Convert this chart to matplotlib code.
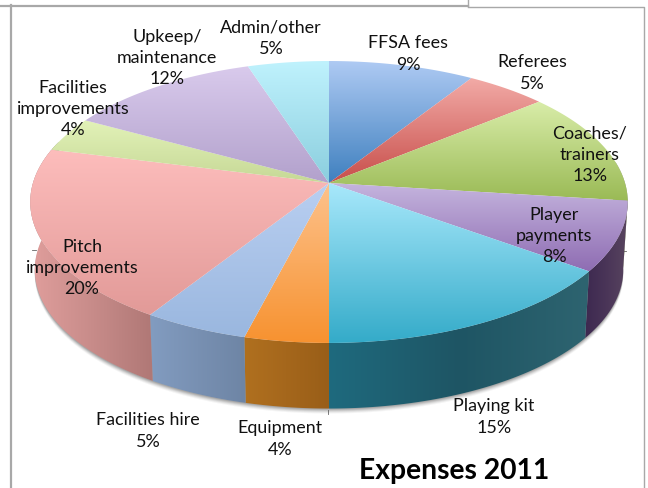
import matplotlib
matplotlib.use('Agg')
import matplotlib.pyplot as plt
import numpy as np
from matplotlib.colors import LinearSegmentedColormap
from matplotlib.patches import Polygon

plt.rcParams['font.family'] = ['Lato', 'DejaVu Sans']

# Slices, clockwise from 12 o'clock
labels = ['FFSA fees\n9%', 'Referees\n5%', 'Coaches/\ntrainers\n13%', 'Player\npayments\n8%',
          'Playing kit\n15%', 'Equipment\n4%', 'Facilities hire\n5%', 'Pitch\nimprovements\n20%',
          'Facilities\nimprovements\n4%', 'Upkeep/\nmaintenance\n12%', 'Admin/other\n5%']
values = [9, 5, 13, 8, 15, 4, 5, 20, 4, 12, 5]
top_light = ['#aecaf3', '#f2aaa6', '#d8eca8', '#c5b5de', '#a8e8fb', '#fdc28c',
             '#b9cff1', '#fdbdbc', '#e2f2b8', '#d9caec', '#bff2fd']
top_dark = ['#3f80bf', '#c84f4b', '#9aba55', '#8f6db3', '#34abc9', '#f79230',
            '#9ab7df', '#e29a98', '#c6d896', '#b2a1cc', '#8bcede']
side_left = ['#5a84b0', '#a04a48', '#7e9648', '#3d2950', '#1f6a7e', '#b0701f',
             '#829cc0', '#e09e9c', '#b4c48c', '#a090b8', '#80c0d0']
side_mid = ['#5a84b0', '#a04a48', '#7e9648', '#4a3558', '#1e5564', '#a5671c',
            '#7890b2', '#c88c8a', '#b4c48c', '#a090b8', '#80c0d0']
side_right = ['#5a84b0', '#a04a48', '#7e9648', '#58445f', '#2e6470', '#995e18',
              '#6e85a5', '#b07876', '#b4c48c', '#a090b8', '#80c0d0']

label_xy = [(408, 54), (532, 73), (590, 155), (554, 236), (494, 417), (280, 439),
            (148, 431), (82, 268), (73, 109), (167, 58), (271, 38)]

# Pie geometry in pixels: centre, radii, perspective and wall depth
cx, cy = 329, 183
rx, ry = 296, 138.4
persp = 0.1347
depth = 68
base_scale = 0.985


def rim(angles, scale=1.0, drop=0.0):
    # angles in radians clockwise from the top of the disc
    u, v = np.sin(angles), np.cos(angles)
    w = 1 + persp * v
    return np.column_stack((cx + scale * rx * u / w, cy + drop - scale * ry * v / w))


def gradient_fill(ax, poly, colors, horizontal=False, zorder=2):
    # paint a linear gradient across the polygon's bounding box and clip it
    cmap = LinearSegmentedColormap.from_list('g', colors)
    ramp = np.linspace(0, 1, 128)
    ramp = ramp[None, :] if horizontal else ramp[:, None]
    x0, y0 = poly.min(axis=0)
    x1, y1 = poly.max(axis=0)
    im = ax.imshow(ramp, cmap=cmap, extent=(x0, x1, y1, y0), aspect='auto',
                   interpolation='bilinear', zorder=zorder)
    patch = Polygon(poly, closed=True, transform=ax.transData, fc='none', ec='none')
    ax.add_patch(patch)
    im.set_clip_path(patch)


fig = plt.figure(figsize=(6.48, 4.88), dpi=100)
ax = fig.add_axes([0, 0, 1, 1])
ax.set_xlim(0, 648)
ax.set_ylim(488, 0)
ax.axis('off')

# Frame of the pasted chart
ax.plot([0, 468], [5.5, 5.5], color='#a8a8a8', lw=1.6, zorder=1)
ax.plot([468, 468], [0, 6], color='#a8a8a8', lw=1.0, zorder=1)
ax.plot([468, 644, 644], [7, 7, 488], color='#a8a8a8', lw=1.0, zorder=1)
ax.plot([11, 11], [5, 488], color='#a8a8a8', lw=1.6, zorder=1)

# Small tick marks left over at the edges of the plot area
ax.plot([32, 36], [250, 250], color='#666666', lw=0.6, zorder=1)
ax.plot([622, 626], [251, 251], color='#666666', lw=0.6, zorder=1)
ax.plot([328, 328], [410, 414], color='#666666', lw=0.6, zorder=1)

edges = 2 * np.pi * np.cumsum([0] + values) / sum(values)

# Soft shadow below the wall
full = np.linspace(np.pi * 0.45, np.pi * 1.6, 200)
for off, alpha in [(5, 0.06), (4, 0.09), (3, 0.12), (2, 0.16), (1, 0.2)]:
    ring = rim(full, base_scale, depth + off)
    ax.add_patch(Polygon(np.vstack((rim(full), ring[::-1])), closed=True, fc='#505050',
                         ec='none', alpha=alpha, zorder=1.5))

# Side wall, only the part that faces the viewer
for i in range(len(values)):
    a0, a1 = max(edges[i], np.radians(96)), min(edges[i + 1], np.radians(287))
    if a1 <= a0:
        continue
    t = np.linspace(a0, a1, 80)
    poly = np.vstack((rim(t), rim(t, base_scale, depth)[::-1]))
    gradient_fill(ax, poly, [side_left[i], side_mid[i], side_right[i]], horizontal=True, zorder=2)

# Top face
for i in range(len(values)):
    t = np.linspace(edges[i], edges[i + 1], 80)
    poly = np.vstack(([[cx, cy]], rim(t)))
    gradient_fill(ax, poly, [top_light[i], top_dark[i]], zorder=3)

for text, (x, y) in zip(labels, label_xy):
    ax.text(x, y, text, ha='center', va='center', fontsize=12.9, color='#111111',
            linespacing=1.42, zorder=5)

ax.text(454, 471, 'Expenses 2011', ha='center', va='center', fontsize=20.3,
        fontweight='bold', color='black', zorder=5)

ax.set_xlim(0, 648)
ax.set_ylim(488, 0)
fig.savefig('out.png', dpi=100)
